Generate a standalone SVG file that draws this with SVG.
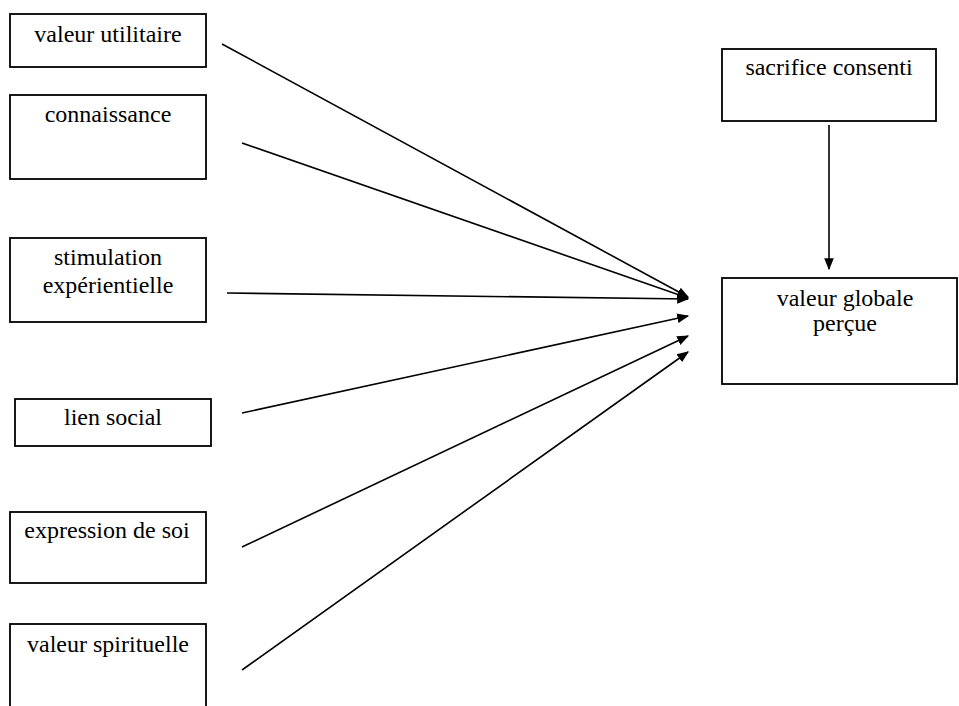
<svg xmlns="http://www.w3.org/2000/svg" width="959" height="706" viewBox="0 0 959 706">
<defs>
<style>
.box{fill:#fff;stroke:#000;stroke-width:1.8}
.t{font-family:"Liberation Serif","Times New Roman",serif;font-size:24px;fill:#000;text-anchor:middle}
.c{stroke:#000;stroke-width:1.6;fill:none}
</style>
<marker id="ah" viewBox="0 0 10 10" refX="9" refY="5" markerWidth="7" markerHeight="7" markerUnits="userSpaceOnUse" orient="auto">
<path d="M0,0 L10,5 L0,10 z" fill="#000"/>
</marker>
<marker id="ahb" viewBox="0 0 10 10" refX="9" refY="5" markerWidth="12" markerHeight="12" orient="auto" markerUnits="userSpaceOnUse">
<path d="M0,1 L10,5 L0,9 z" fill="#000"/>
</marker>
</defs>
<rect width="959" height="706" fill="#fff"/>
<g id="n1"><rect class="box" x="10" y="14" width="196" height="53"/><text class="t" x="108" y="42">valeur utilitaire</text></g>
<g id="n2"><rect class="box" x="10" y="95" width="196" height="84"/><text class="t" x="108" y="122">connaissance</text></g>
<g id="n3"><rect class="box" x="10" y="238" width="196" height="84"/><text class="t" x="108" y="265">stimulation</text><text class="t" x="108" y="293">expérientielle</text></g>
<g id="n4"><rect class="box" x="15" y="399" width="196" height="47"/><text class="t" x="113" y="425">lien social</text></g>
<g id="n5"><rect class="box" x="10" y="512" width="196" height="71"/><text class="t" x="107" y="538">expression de soi</text></g>
<g id="n6"><rect class="box" x="10" y="624" width="196" height="100"/><text class="t" x="108" y="652">valeur spirituelle</text></g>
<g id="n7"><rect class="box" x="722" y="49" width="214" height="72"/><text class="t" x="829" y="75">sacrifice consenti</text></g>
<g id="n8"><rect class="box" x="722" y="278" width="235" height="106"/><text class="t" x="845" y="306">valeur globale</text><text class="t" x="845" y="331">perçue</text></g>
<g id="connectors">
<line class="c" x1="222" y1="44" x2="688" y2="297" marker-end="url(#ahb)"/>
<line class="c" x1="242" y1="143" x2="688" y2="298" marker-end="url(#ahb)"/>
<line class="c" x1="227" y1="293" x2="688" y2="299" marker-end="url(#ahb)"/>
<line class="c" x1="242" y1="413" x2="688" y2="316" marker-end="url(#ahb)"/>
<line class="c" x1="242" y1="547" x2="688" y2="336" marker-end="url(#ahb)"/>
<line class="c" x1="242" y1="670" x2="688" y2="352" marker-end="url(#ahb)"/>
<line class="c" x1="829" y1="125" x2="829" y2="269" marker-end="url(#ahb)"/>
</g>
</svg>
